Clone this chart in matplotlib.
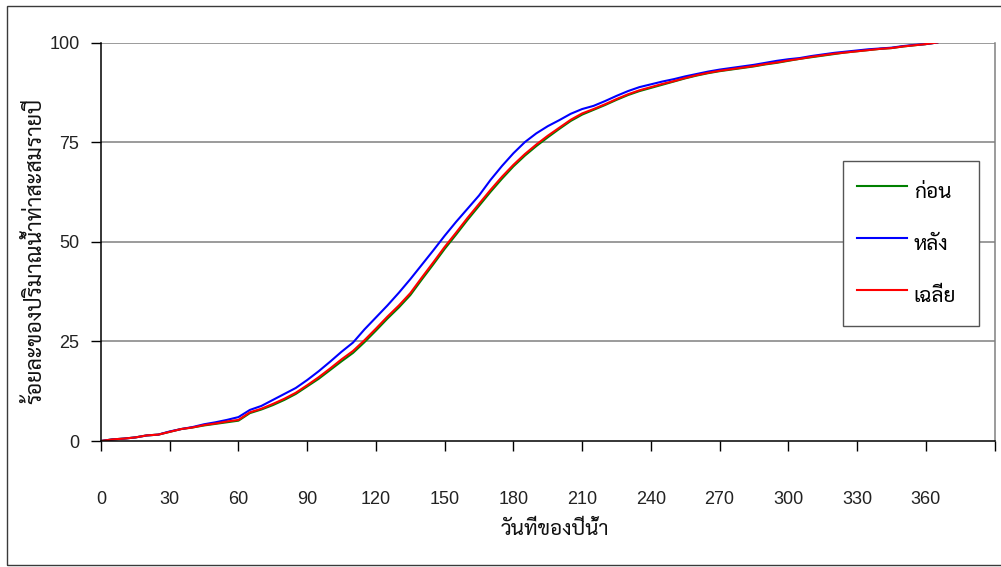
import matplotlib
matplotlib.use("Agg")
import matplotlib.pyplot as plt
from matplotlib import font_manager
from matplotlib.patches import Rectangle

# ---------------- data ----------------
days = [0, 5, 10, 15, 20, 25, 30, 35, 40, 45, 50, 55, 60, 65, 70, 75, 80, 85, 90, 95,
        100, 105, 110, 115, 120, 125, 130, 135, 140, 145, 150, 155, 160, 165, 170, 175,
        180, 185, 190, 195, 200, 205, 210, 215, 220, 225, 230, 235, 240, 245, 250, 255,
        260, 265, 270, 275, 280, 285, 290, 295, 300, 305, 310, 315, 320, 325, 330, 335,
        340, 345, 350, 355, 360, 365]

before = [0.0, 0.4, 0.6, 0.9, 1.4, 1.6, 2.3, 3.0, 3.4, 3.9, 4.3, 4.7, 5.1, 7.0, 7.9, 9.0,
          10.3, 11.8, 13.7, 15.6, 17.8, 20.0, 22.1, 24.8, 27.7, 30.7, 33.5, 36.6, 40.5, 44.3,
          48.2, 51.8, 55.5, 59.0, 62.5, 65.8, 68.9, 71.6, 74.0, 76.2, 78.3, 80.3, 81.9, 83.1,
          84.3, 85.6, 86.8, 87.8, 88.6, 89.4, 90.2, 91.0, 91.7, 92.3, 92.8, 93.2, 93.6, 94.0,
          94.5, 94.9, 95.4, 95.9, 96.3, 96.7, 97.1, 97.5, 97.8, 98.1, 98.4, 98.6, 99.0, 99.3,
          99.6, 100.0]

after = [0.0, 0.4, 0.6, 0.9, 1.4, 1.6, 2.4, 3.0, 3.5, 4.2, 4.7, 5.3, 6.0, 7.8, 8.8, 10.3,
         11.8, 13.3, 15.3, 17.5, 19.9, 22.4, 24.7, 28.0, 31.0, 34.0, 37.2, 40.6, 44.2, 47.8,
         51.5, 55.0, 58.3, 61.6, 65.5, 69.0, 72.2, 75.0, 77.2, 79.0, 80.5, 82.1, 83.3, 84.1,
         85.3, 86.6, 87.8, 88.8, 89.5, 90.2, 90.8, 91.5, 92.1, 92.7, 93.2, 93.6, 94.0, 94.4,
         94.9, 95.4, 95.8, 96.1, 96.6, 97.0, 97.4, 97.7, 98.0, 98.3, 98.5, 98.7, 99.1, 99.4,
         99.6, 100.0]

average = [0.0, 0.4, 0.6, 0.9, 1.4, 1.6, 2.3, 3.0, 3.4, 4.0, 4.4, 4.9, 5.3, 7.2, 8.1, 9.3,
           10.6, 12.1, 14.0, 16.0, 18.2, 20.5, 22.6, 25.3, 28.2, 31.2, 34.0, 37.1, 41.0, 44.8,
           48.7, 52.3, 56.0, 59.5, 63.0, 66.3, 69.3, 72.0, 74.4, 76.6, 78.6, 80.6, 82.2, 83.3,
           84.5, 85.8, 87.0, 88.0, 88.8, 89.6, 90.3, 91.1, 91.8, 92.4, 92.9, 93.3, 93.7, 94.1,
           94.6, 95.0, 95.5, 95.9, 96.4, 96.8, 97.2, 97.5, 97.8, 98.1, 98.4, 98.6, 99.0, 99.3,
           99.6, 100.0]

series_labels = ["ก่อน", "หลัง", "เฉลี่ย"]
series_colors = ["#008000", "#0000ff", "#ff0000"]
x_ticks = [0, 30, 60, 90, 120, 150, 180, 210, 240, 270, 300, 330, 360, 390]
x_ticklabels = ["0", "30", "60", "90", "120", "150", "180", "210", "240", "270",
                "300", "330", "360", ""]
y_ticks = [0, 25, 50, 75, 100]
x_title = "วันที่ของปีน้ำ"
y_title = "ร้อยละของปริมาณน้ำท่าสะสมรายปี"

# ---------------- fonts ----------------
available = {f.name for f in font_manager.fontManager.ttflist}
thai_font = next((n for n in ["Sarabun", "Noto Sans Thai Looped", "Noto Sans Thai",
                              "Anuphan", "Bai Jamjuree"] if n in available), "DejaVu Sans")
latin_font = "Liberation Sans" if "Liberation Sans" in available else "DejaVu Sans"
plt.rcParams["font.family"] = [latin_font, thai_font]

W, H = 1001, 567
fig = plt.figure(figsize=(W / 100, H / 100), dpi=100)

# outer chart frame
fig.patches.append(Rectangle((7 / W, 1 - 565 / H), (W + 5 - 7) / W, (565 - 6) / H,
                             transform=fig.transFigure, fill=False,
                             edgecolor="#3a3a3a", linewidth=1.0))

left, right, top, bottom = 101, 994.5, 42.5, 441
pw, ph = right - left, bottom - top
ax = fig.add_axes([left / W, 1 - bottom / H, pw / W, ph / H])

for vals, lab, col in zip([before, after, average], series_labels, series_colors):
    ax.plot(days, vals, color=col, linewidth=1.5, label=lab)

ax.set_xlim(0, 390)
ax.set_ylim(0, 100)
ax.set_xticks(x_ticks)
ax.set_xticklabels(x_ticklabels)
ax.set_yticks(y_ticks)
ax.set_yticklabels([str(v) for v in y_ticks])

for yv in y_ticks[1:]:
    ax.axhline(yv, color="#808080", linewidth=1.1, zorder=0.5)

ax.spines["top"].set_visible(False)
ax.spines["right"].set_color("#808080")
ax.spines["right"].set_linewidth(1.1)
for s in ["left", "bottom"]:
    ax.spines[s].set_color("black")
    ax.spines[s].set_linewidth(1.1)

ax.tick_params(axis="x", direction="out", length=7.5, width=1.0, color="black",
               pad=28.5, labelsize=13, labelcolor="#222222")
ax.tick_params(axis="y", direction="out", length=7.5, width=1.0, color="black",
               pad=8, labelsize=13, labelcolor="#222222")

ax.set_xlabel(x_title, fontsize=15, family=[thai_font], labelpad=8, color="#111111")
ax.xaxis.label.set_x(0.5 + 7 / pw)
ax.set_ylabel(y_title, fontsize=15.5, family=[thai_font], color="#111111")
ax.yaxis.set_label_coords((46 - left) / pw, 0.5 - 9 / ph)

# legend box: x 843..979, top at y=161 (pixels)
leg = ax.legend(loc="upper left",
                bbox_to_anchor=((843 - left) / pw, (bottom - 161) / ph,
                                (979 - 843) / pw, 0.0),
                mode="expand",
                prop={"family": [thai_font], "size": 15}, frameon=True, fancybox=False,
                shadow=False, edgecolor="#555555", framealpha=1.0, borderpad=0.65,
                labelspacing=0.89, handlelength=2.4, handleheight=2.1,
                handletextpad=0.35, borderaxespad=0.0)
leg.get_frame().set_linewidth(1.0)

fig.savefig("out.png", dpi=100)
